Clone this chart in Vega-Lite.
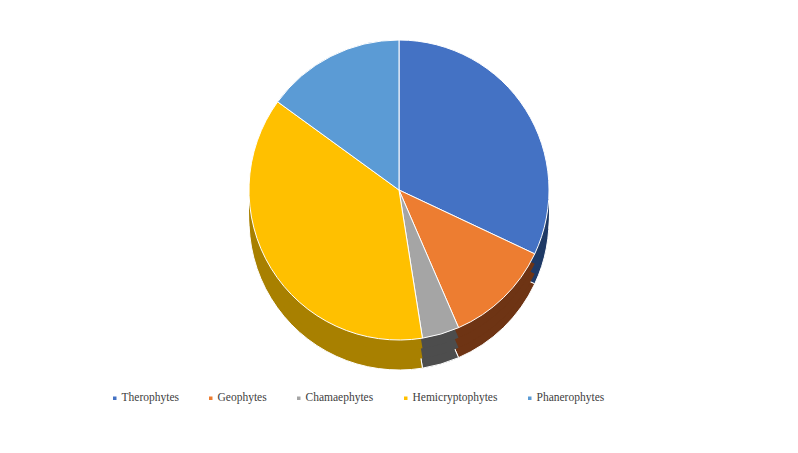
{
  "$schema": "https://vega.github.io/schema/vega-lite/v6.json",
  "width": 794,
  "height": 376,
  "autosize": "none",
  "padding": {"top": 2, "bottom": 75, "left": 2, "right": 2},
  "background": "white",
  "config": {"view": {"stroke": null}},
  "data": {
    "values": [
      {"type": "Therophytes", "value": 32, "ord": 1},
      {"type": "Geophytes", "value": 11.5, "ord": 2},
      {"type": "Chamaephytes", "value": 4, "ord": 3},
      {"type": "Hemicryptophytes", "value": 37.5, "ord": 4},
      {"type": "Phanerophytes", "value": 15, "ord": 5}
    ]
  },
  "layer": [
    {
      "mark": {"type": "arc", "outerRadius": 150, "yOffset": 30, "stroke": "#ffffff", "strokeWidth": 1},
      "encoding": {
        "theta": {"field": "value", "type": "quantitative", "stack": true},
        "order": {"field": "ord", "type": "quantitative"},
        "color": {
          "field": "type", "type": "nominal",
          "scale": {"domain": ["Therophytes", "Geophytes", "Chamaephytes", "Hemicryptophytes", "Phanerophytes"],
                    "range": ["#1f3a66", "#6e3414", "#4d4d4d", "#a88000", "#2f5f8f"]},
          "legend": null
        }
      }
    },
    {
      "mark": {"type": "arc", "outerRadius": 150, "yOffset": 20, "stroke": null},
      "encoding": {
        "theta": {"field": "value", "type": "quantitative", "stack": true},
        "order": {"field": "ord", "type": "quantitative"},
        "color": {
          "field": "type", "type": "nominal",
          "scale": {"domain": ["Therophytes", "Geophytes", "Chamaephytes", "Hemicryptophytes", "Phanerophytes"],
                    "range": ["#1f3a66", "#6e3414", "#4d4d4d", "#a88000", "#2f5f8f"]},
          "legend": null
        }
      }
    },
    {
      "mark": {"type": "arc", "outerRadius": 150, "yOffset": 10, "stroke": null},
      "encoding": {
        "theta": {"field": "value", "type": "quantitative", "stack": true},
        "order": {"field": "ord", "type": "quantitative"},
        "color": {
          "field": "type", "type": "nominal",
          "scale": {"domain": ["Therophytes", "Geophytes", "Chamaephytes", "Hemicryptophytes", "Phanerophytes"],
                    "range": ["#1f3a66", "#6e3414", "#4d4d4d", "#a88000", "#2f5f8f"]},
          "legend": null
        }
      }
    },
    {
      "mark": {"type": "arc", "outerRadius": 150, "stroke": "#ffffff", "strokeWidth": 1},
      "encoding": {
        "theta": {"field": "value", "type": "quantitative", "stack": true},
        "order": {"field": "ord", "type": "quantitative"},
        "color": {
          "field": "type", "type": "nominal",
          "scale": {"domain": ["Therophytes", "Geophytes", "Chamaephytes", "Hemicryptophytes", "Phanerophytes"],
                    "range": ["#4472C4", "#ED7D31", "#A5A5A5", "#FFC000", "#5B9BD5"]},
          "legend": {
            "title": null,
            "orient": "none",
            "legendX": 107,
            "legendY": 390,
            "direction": "horizontal",
            "columns": 5,
            "symbolType": "square",
            "symbolSize": 25,
            "labelOffset": 1,
            "labelFont": "Liberation Serif",
            "labelFontSize": 11.5,
            "labelColor": "#404040",
            "columnPadding": 26
          }
        }
      }
    }
  ],
  "resolve": {"scale": {"color": "independent"}}
}
